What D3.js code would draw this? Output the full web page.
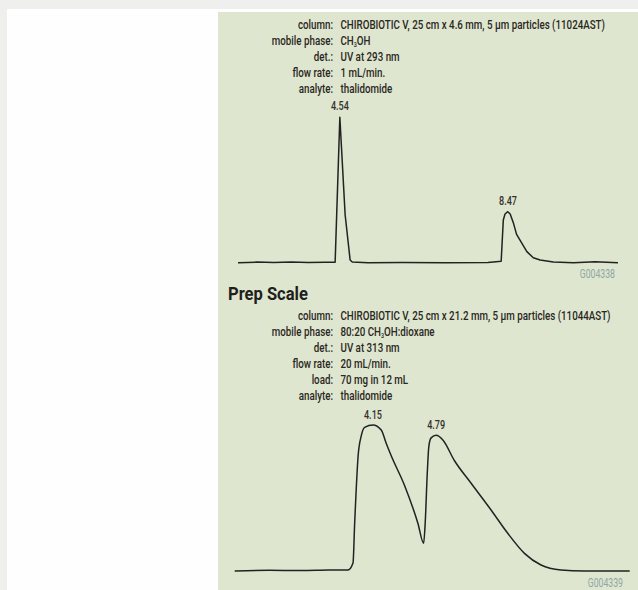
<!DOCTYPE html>
<html><head><meta charset="utf-8">
<script src="https://cdn.jsdelivr.net/npm/d3@7"></script>
<style>
html,body{margin:0;padding:0;background:#efefed;}
svg{display:block;}
</style></head>
<body>
<svg id="chart" width="638" height="590"></svg>
<script>
// ---------- data ----------
const analyticalTime   = [2.16, 2.6, 3.0, 3.4, 3.8, 4.2, 4.43, 4.54, 4.664, 4.78, 4.83, 5.2, 6.0, 7.0, 8.0, 8.31, 8.36, 8.40, 8.465, 8.52, 8.60, 8.67, 8.75, 8.91, 9.06, 9.22, 9.53, 10.0, 10.5, 11.04];
const analyticalSignal = [0, 0.4, 0.2, 0.5, 0.1, 0.3, 0.3, 100, 32.8, 1.9, 0.5, 0, 0.2, 0, 0.2, 1, 29.4, 33.5, 35.1, 33.5, 26.9, 19.5, 15.6, 7.6, 3.4, 1.8, 0.5, 0, 0.6, 0];
const analyticalPeaks  = [4.54, 8.47];
const analyticalPeakHeights = [100, 35.1];
const analyticalDomain = [2.16, 11.04];

const prepTime   = [2.75, 3.1, 3.41, 3.7, 3.897, 3.948, 3.965, 4.0, 4.032, 4.066, 4.15, 4.234, 4.284, 4.335, 4.471, 4.605, 4.663, 4.679, 4.70, 4.716, 4.739, 4.79, 4.858, 4.976, 5.144, 5.346, 5.515, 5.684, 5.852, 6.054, 6.29, 6.75];
const prepSignal = [0, 0.5, 0.3, 0.6, 0.7, 5.5, 32.9, 78.9, 92.7, 98.4, 100, 96.6, 87.5, 78.9, 58.4, 32.7, 19.0, 32.7, 66.9, 85.4, 91.2, 92.9, 89.7, 75.5, 60.1, 41.8, 25.8, 12.1, 4.1, 0.7, 0, 0];
const prepPeaks  = [4.15, 4.79];
const prepPeakHeights = [100, 92.9];
const prepDomain = [2.75, 6.75];

const analyticalLabels = ["column:", "mobile phase:", "det.:", "flow rate:", "analyte:"];
const analyticalValues = ["CHIROBIOTIC V, 25 cm x 4.6 mm, 5 µm particles (11024AST)", ["CH", "3", "OH"], "UV at 293 nm", "1 mL/min.", "thalidomide"];
const prepLabels = ["column:", "mobile phase:", "det.:", "flow rate:", "load:", "analyte:"];
const prepValues = ["CHIROBIOTIC V, 25 cm x 21.2 mm, 5 µm particles (11044AST)", ["80:20 CH", "3", "OH:dioxane"], "UV at 313 nm", "20 mL/min.", "70 mg in 12 mL", "thalidomide"];
const prepTitle = "Prep Scale";
const codes = ["G004338", "G004339"];

// ---------- drawing ----------
const svg = d3.select("#chart");
svg.append("rect").attr("x", 7).attr("y", 9).attr("width", 631).attr("height", 581).attr("fill", "#fefefe");
svg.append("rect").attr("x", 218).attr("y", 12).attr("width", 420).attr("height", 578).attr("fill", "#dee6cf");

const FONT = "'Roboto','Liberation Sans',sans-serif";
const textColor = "#2a2622";

function factor(str, size, weight, target) {
  const p = svg.append("text").attr("font-family", FONT).attr("font-size", size)
    .attr("font-weight", weight).text(str);
  const f = target / p.node().getComputedTextLength();
  p.remove();
  return f;
}
const k = factor("CHIROBIOTIC V, 25 cm x 4.6 mm, 5 µm particles (11024AST)", 13.5, 500, 265);
const kTitle = factor(prepTitle, 18, 700, 80);

function condensedText(g, x, y, anchor, size, weight, content, color, kx) {
  const t = g.append("text")
    .attr("transform", `translate(${x},${y}) scale(${kx || k},1)`)
    .attr("text-anchor", anchor)
    .attr("font-family", FONT)
    .attr("font-size", size)
    .attr("font-weight", weight || 500)
    .attr("fill", color || textColor);
  if (Array.isArray(content)) {
    t.append("tspan").text(content[0]);
    t.append("tspan").attr("font-size", size * 0.55).attr("dy", 2).text(content[1]);
    t.append("tspan").attr("dy", -2).text(content[2]);
  } else {
    t.text(content);
  }
  return t;
}

function infoBlock(labels, values, y0) {
  const g = svg.append("g");
  labels.forEach((lab, i) => {
    condensedText(g, 333, y0 + i * 16, "end", 13.5, 500, lab);
    condensedText(g, 340.5, y0 + i * 16, "start", 13.5, 500, values[i]);
  });
}

function chromatogram(times, signal, domain, xRange, yRange, peaks, heights, gap, code, codePos, curve) {
  const x = d3.scaleLinear().domain(domain).range(xRange);
  const y = d3.scaleLinear().domain([0, 100]).range(yRange);
  const pts = times.map((t, i) => [t, signal[i]]);
  const line = d3.line().x(d => x(d[0])).y(d => y(d[1])).curve(curve);
  svg.append("path").datum(pts).attr("d", line)
    .attr("fill", "none").attr("stroke", "#222").attr("stroke-width", 1.5)
    .attr("stroke-linejoin", "round");
  const g = svg.append("g");
  peaks.forEach((p, i) => {
    condensedText(g, x(p), y(heights[i]) - gap, "middle", 12.5, 500, p.toFixed(2), "#35302b");
  });
  condensedText(g, codePos[0], codePos[1], "end", 12, 400, code, "#8fa6a4");
}

infoBlock(analyticalLabels, analyticalValues, 28.5);
chromatogram(analyticalTime, analyticalSignal, analyticalDomain, [238, 618], [262.7, 117.3],
  analyticalPeaks, analyticalPeakHeights, 7, codes[0], [615, 277.5], d3.curveLinear);

condensedText(svg, 228, 299.5, "start", 18, 700, prepTitle, "#221e1b", kTitle);
infoBlock(prepLabels, prepValues, 319.5);
chromatogram(prepTime, prepSignal, prepDomain, [234.7, 629.7], [571, 425],
  prepPeaks, prepPeakHeights, 6, codes[1], [623, 587], d3.curveMonotoneX);
</script>
</body></html>
